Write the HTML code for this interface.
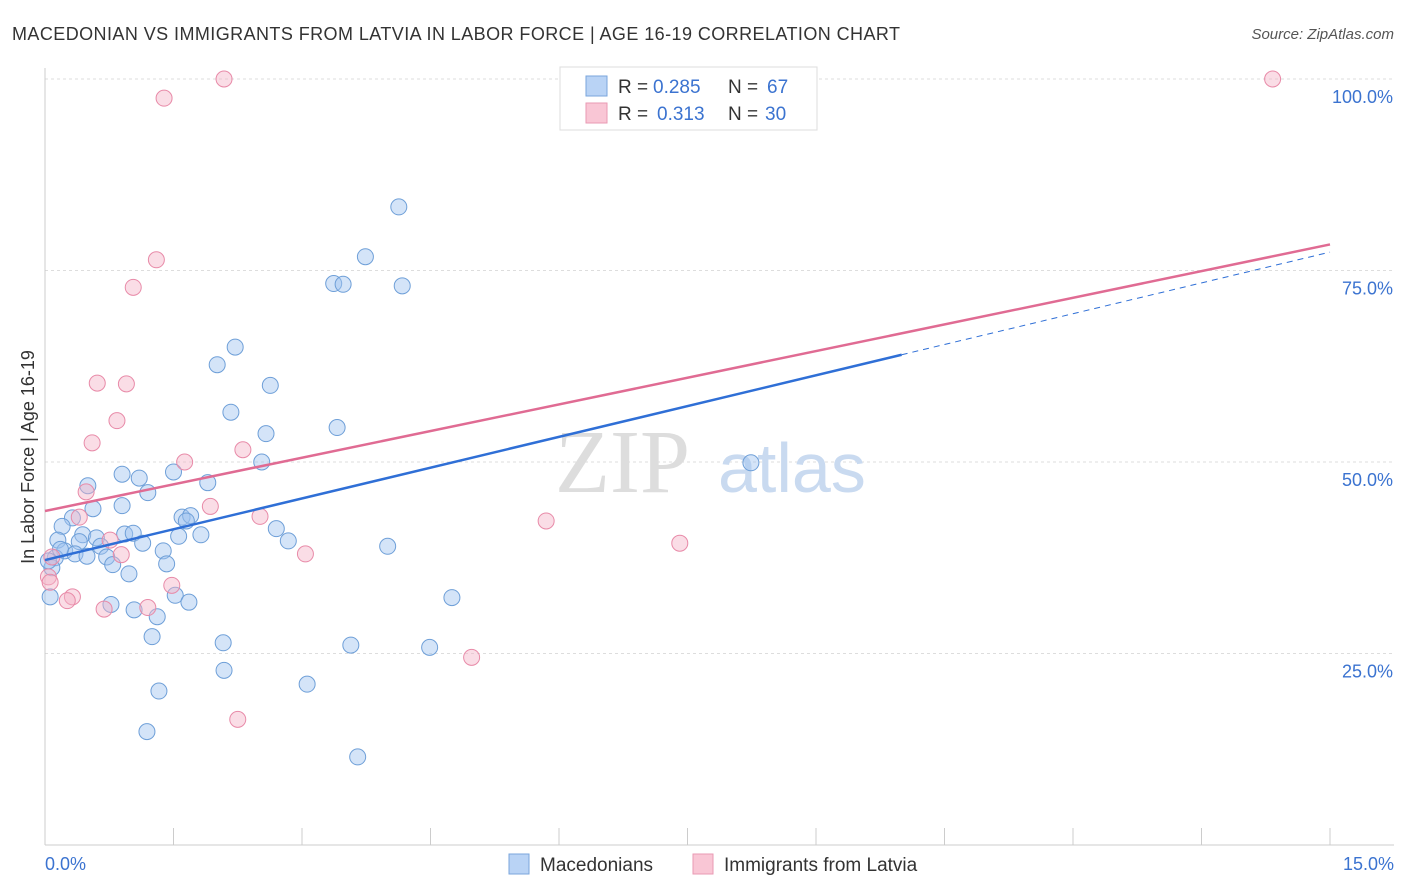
<!DOCTYPE html>
<html><head><meta charset="utf-8"><style>
body{margin:0;background:#fff;font-family:"Liberation Sans",sans-serif}
svg{display:block}
</style></head><body>
<svg width="1406" height="892" viewBox="0 0 1406 892">
<text x="12" y="40" font-size="18" fill="#333" textLength="888">MACEDONIAN VS IMMIGRANTS FROM LATVIA IN LABOR FORCE | AGE 16-19 CORRELATION CHART</text>
<text x="1394" y="39" font-size="15" fill="#555" font-style="italic" text-anchor="end">Source: ZipAtlas.com</text>
<g id="grid"></g>
<g><text x="555" y="492" font-size="90" fill="#ddd" font-family="Liberation Serif">ZIP</text><text x="718" y="492" font-size="70" fill="#c9daf0">atlas</text></g>
<g id="pts"></g>
<g id="lines"></g>
<text transform="translate(34,457) rotate(-90)" font-size="18" fill="#333" text-anchor="middle">In Labor Force | Age 16-19</text>
<text x="45" y="870" font-size="18" fill="#3b73d0">0.0%</text>
<text x="1394" y="870" font-size="18" fill="#3b73d0" text-anchor="end">15.0%</text>
<g>
<rect x="560" y="67" width="257" height="63" fill="#fff" stroke="#ddd"/>
<rect x="586" y="76" width="21" height="20" fill="#b9d3f5" stroke="#7aa6dc"/>
<rect x="586" y="103" width="21" height="20" fill="#f9c6d5" stroke="#e99ab3"/>
<text y="93" font-size="19" fill="#333"><tspan x="618">R =</tspan><tspan x="653" fill="#3b73d0">0.285</tspan><tspan x="728">N =</tspan><tspan x="767" fill="#3b73d0">67</tspan></text>
<text y="120" font-size="19" fill="#333"><tspan x="618">R =</tspan><tspan x="657" fill="#3b73d0">0.313</tspan><tspan x="728">N =</tspan><tspan x="765" fill="#3b73d0">30</tspan></text>
</g>
<g>
<rect x="509" y="854" width="20" height="20" fill="#b9d3f5" stroke="#7aa6dc"/>
<text x="540" y="871" font-size="19" fill="#333">Macedonians</text>
<rect x="693" y="854" width="20" height="20" fill="#f9c6d5" stroke="#e99ab3"/>
<text x="724" y="871" font-size="19" fill="#333">Immigrants from Latvia</text>
</g>
</svg>
<script>
const blueX=[4.13,3.74,3.37,3.48,4.17,2.22,2.01,2.63,2.17,3.41,2.58,2.53,8.24,0.9,1.1,1.5,0.5,1.2,1.9,0.9,0.56,0.32,1.6,1.7,1.65,2.7,1.56,1.82,0.2,0.44,0.6,0.93,1.03,0.15,0.4,1.14,2.84,0.65,4.0,0.23,0.35,0.49,0.72,1.38,0.12,0.79,1.42,0.08,0.98,0.06,1.52,1.68,4.75,0.77,1.04,1.31,1.25,2.08,3.57,4.49,2.09,1.33,3.06,1.19,3.65,0.04,0.18];
const blueY=[83.3,76.8,73.3,73.2,73.0,65.0,62.7,60.0,56.5,54.5,53.7,50.0,49.9,48.4,47.9,48.7,46.9,46.0,47.3,44.3,43.9,42.7,42.8,43.0,42.3,41.3,40.3,40.5,41.6,40.5,40.1,40.6,40.7,39.8,39.6,39.4,39.7,39.0,39.0,38.4,38.0,37.7,37.6,38.4,37.5,36.6,36.7,36.2,35.4,32.4,32.6,31.7,32.3,31.4,30.7,29.8,27.2,26.4,26.1,25.8,22.8,20.1,21.0,14.8,11.5,37.1,38.6];
const pinkX=[2.09,14.33,1.39,1.3,1.03,0.61,0.95,0.84,0.55,2.31,1.63,0.48,1.93,0.4,2.51,5.85,0.76,7.41,0.89,3.04,0.08,0.04,1.48,0.32,0.26,0.69,1.2,4.98,2.25,0.06];
const pinkY=[100,100,97.5,76.4,72.8,60.3,60.2,55.4,52.5,51.6,50.0,46.1,44.2,42.8,42.9,42.3,39.8,39.4,37.9,38.0,37.6,35.0,33.9,32.4,31.9,30.8,31.0,24.5,16.4,34.3];
const X=v=>45+v/15*1285, Y=v=>845-v/100*766;
const ns="http://www.w3.org/2000/svg";
function mk(t,a,p){const e=document.createElementNS(ns,t);for(const k in a)e.setAttribute(k,a[k]);p.appendChild(e);return e;}
const g=document.getElementById('grid');
[100,75,50,25].forEach(v=>{const l=mk('line',{x1:45,x2:1394,y1:Y(v),y2:Y(v),stroke:'#ddd','stroke-dasharray':'3,3'},g);


const t=mk('text',{x:1393,y:Y(v)+24,'font-size':18,fill:'#3b73d0','text-anchor':'end'},g);t.textContent=v.toFixed(1)+'%';

});
mk('line',{x1:45,x2:45,y1:68,y2:845,stroke:'#ccc'},g);
mk('line',{x1:45,x2:1394,y1:845,y2:845,stroke:'#ccc'},g);
for(let i=0;i<=10;i++){const l=mk('line',{x1:X(i*1.5),x2:X(i*1.5),y1:828,y2:845,stroke:'#ccc'},g);

}
const p=document.getElementById('pts');
blueX.forEach((x,i)=>{const c=mk('circle',{cx:X(x),cy:Y(blueY[i]),r:8,fill:'rgba(160,195,240,0.45)',stroke:'#6e9fd8','stroke-width':1},p);

});
pinkX.forEach((x,i)=>{const c=mk('circle',{cx:X(x),cy:Y(pinkY[i]),r:8,fill:'rgba(245,180,200,0.45)',stroke:'#e88aa8','stroke-width':1},p);

});
const L=document.getElementById('lines');
const bl=[37.2,64.0], pl=[43.6,78.4];
const bAt=x=>bl[0]+(bl[1]-bl[0])*x/10;
let e=mk('line',{x1:X(0),y1:Y(bAt(0)),x2:X(10),y2:Y(bAt(10)),stroke:'#2f6fd6','stroke-width':2.5},L);


e=mk('line',{x1:X(10),y1:Y(bAt(10)),x2:X(15),y2:Y(bAt(15)),stroke:'#2f6fd6','stroke-width':1,'stroke-dasharray':'6,5'},L);


e=mk('line',{x1:X(0),y1:Y(pl[0]),x2:X(15),y2:Y(pl[1]),stroke:'#e06b93','stroke-width':2.5},L);


</script>
</body></html>
